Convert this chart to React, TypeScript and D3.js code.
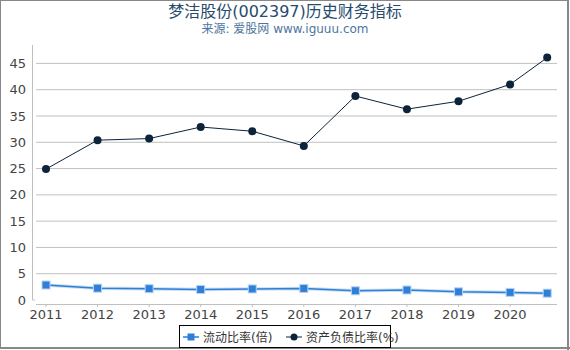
import * as d3 from 'd3'

const W = 570
const H = 350
const M = { top: 45, right: 13, bottom: 46, left: 36 }

const PERIODS = [2011, 2012, 2013, 2014, 2015, 2016, 2017, 2018, 2019, 2020, 2020.72]
const TICK_YEARS = [2011, 2012, 2013, 2014, 2015, 2016, 2017, 2018, 2019, 2020]
const CURRENT_RATIO = [2.85, 2.25, 2.15, 2.0, 2.1, 2.2, 1.75, 1.9, 1.55, 1.45, 1.3]
const DEBT_RATIO = [24.9, 30.4, 30.7, 32.9, 32.1, 29.3, 38.8, 36.3, 37.8, 41.0, 46.1]
const Y_TICKS = [0, 5, 10, 15, 20, 25, 30, 35, 40, 45]

const FONT = '"DejaVu Sans", "Noto Sans CJK SC", sans-serif'
const BLUE = '#2f7ed8'
const NAVY = '#0d233a'

export default function App() {
  const x = d3.scaleLinear().domain([2010.806, 2020.91]).range([M.left, W - M.right])
  const y = d3.scaleLinear().domain([0, 48.5]).range([H - M.bottom - 4, M.top])
  const base = y(0)

  const cur = PERIODS.map((p, i) => [x(p), y(CURRENT_RATIO[i])] as [number, number])
  const debt = PERIODS.map((p, i) => [x(p), y(DEBT_RATIO[i])] as [number, number])
  const line = d3.line()

  return (
    <svg width={W} height={H} style={{ position: 'absolute', left: 0, top: 0, fontFamily: FONT }}>
      <rect x={0} y={0} width={W} height={H} fill="#fff" />
      <rect x={0.5} y={0.5} width={W - 2} height={H - 2.5} fill="none" stroke="#888" strokeWidth={1} />
      <line x1={W - 2} x2={W - 2} y1={0} y2={H} stroke="#888" strokeWidth={2} />
      <line x1={0} x2={W} y1={H - 2} y2={H - 2} stroke="#888" strokeWidth={2} />

      <text x={W / 2} y={17} textAnchor="middle" fontSize={16} fill="#274b6d">
        梦洁股份(002397)历史财务指标
      </text>
      <text x={W / 2} y={33} textAnchor="middle" fontSize={12} fill="#4d759e">
        来源: 爱股网 www.iguuu.com
      </text>

      {Y_TICKS.map((t) => (
        <g key={t}>
          {t > 0 && (
            <line x1={M.left} x2={W - M.right} y1={y(t)} y2={y(t)} stroke="#c0c0c0" strokeWidth={1} />
          )}
          <text x={26} y={y(t)} dy="0.35em" textAnchor="end" fontSize={13} fill="#444">
            {t}
          </text>
        </g>
      ))}
      <line x1={32.5} x2={32.5} y1={M.top} y2={base} stroke="#c0c0c0" />
      <line x1={32.5} x2={35} y1={base} y2={base} stroke="#c0c0c0" />
      <line x1={M.left} x2={W - M.right} y1={base + 4.5} y2={base + 4.5} stroke="#c0c0c0" />
      {TICK_YEARS.map((t) => (
        <g key={t}>
          <line x1={x(t)} x2={x(t)} y1={base + 4.5} y2={base + 7} stroke="#c0c0c0" />
          <text x={x(t)} y={base + 19} textAnchor="middle" fontSize={13} fill="#444">
            {t}
          </text>
        </g>
      ))}

      {/* current ratio */}
      <path d={line(cur) || ''} fill="none" stroke={BLUE} strokeOpacity={0.25} strokeWidth={3.5} />
      <path d={line(cur) || ''} fill="none" stroke={BLUE} strokeWidth={1.5} />
      {cur.map(([cx, cy], i) => (
        <rect key={i} x={cx - 4} y={cy - 4} width={8} height={8} fill={BLUE} stroke="#b5d3f3" strokeWidth={1} />
      ))}

      {/* debt ratio */}
      <path d={line(debt) || ''} fill="none" stroke={NAVY} strokeWidth={1} />
      {debt.map(([cx, cy], i) => (
        <circle key={i} cx={cx} cy={cy} r={4} fill={NAVY} />
      ))}

      {/* legend */}
      <rect x={179.5} y={325.5} width={211} height={22} fill="#fff" stroke="#000" />
      <line x1={183} x2={199} y1={337} y2={337} stroke={BLUE} strokeWidth={1.5} />
      <rect x={187.5} y={333.5} width={7} height={7} fill={BLUE} />
      <text x={203} y={341.5} fontSize={12} fill="#333">流动比率(倍)</text>
      <line x1={286} x2={302} y1={337} y2={337} stroke={NAVY} strokeWidth={1} />
      <circle cx={294} cy={337} r={3.5} fill={NAVY} />
      <text x={306} y={341.5} fontSize={12} fill="#333">资产负债比率(%)</text>
    </svg>
  )
}
